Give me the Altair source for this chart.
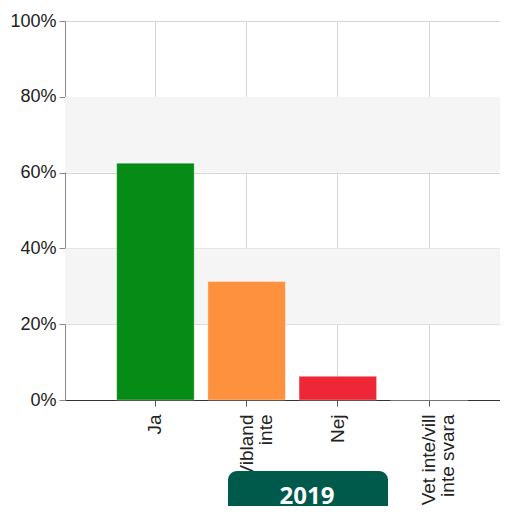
import altair as alt
import pandas as pd

categories = ["Ja", "Vibland\ninte", "Nej", "Vet inte/vill\ninte svara"]
shares = [62.5, 31.25, 6.25, 0.0]
bar_colors = ["#068B17", "#FD913D", "#EE2737", "#7F7F7F"]
y_ticks = [0, 20, 40, 60, 80, 100]
bands_from = [20, 60]
bands_to = [40, 80]
year_label = ["2019"]

df = pd.DataFrame({"cat": categories, "share": shares, "color": bar_colors})
bands = pd.DataFrame({"y0": bands_from, "y1": bands_to})
year_df = pd.DataFrame({"label": year_label})

W, H = 435, 379

x_enc = alt.X(
    "cat:N",
    sort=categories,
    scale=alt.Scale(paddingInner=0.15, paddingOuter=0.46, align=0.616, round=False),
    axis=alt.Axis(
        title=None,
        labelAngle=-90,
        labelExpr="split(datum.label, '\\n')",
        labelFont="Liberation Sans",
        labelFontSize=19,
        labelColor="#222222",
        labelLineHeight=19,
        labelPadding=8,
        labelLimit=0,
        tickSize=6,
        tickColor="#555555",
        domainColor="#333333",
        grid=True,
        gridColor="#d6d6d6",
        zindex=0,
    ),
)

y_scale = alt.Scale(domain=[0, 100], nice=False)

band_layer = alt.Chart(bands).mark_rect(color="#f5f5f5").encode(
    y=alt.Y("y0:Q", scale=y_scale),
    y2="y1:Q",
)

bars = alt.Chart(df).mark_bar(stroke="white", strokeOpacity=0.35, strokeWidth=1).encode(
    x=x_enc,
    y=alt.Y(
        "share:Q",
        scale=y_scale,
        axis=alt.Axis(
            title=None,
            values=y_ticks,
            labelExpr="datum.value + '%'",
            labelFont="Liberation Sans",
            labelFontSize=18,
            labelColor="#222222",
            labelPadding=3,
            tickSize=6,
            tickColor="#888888",
            domainColor="#888888",
            grid=True,
            gridColor="#d6d6d6",
        ),
    ),
    color=alt.Color("color:N", scale=None, legend=None),
)

box = alt.Chart(year_df).mark_rect(color="#005A4B", cornerRadius=9).encode(
    x=alt.value(163), x2=alt.value(323), y=alt.value(450), y2=alt.value(520)
)
box_text = alt.Chart(year_df).mark_text(
    color="white", font="Open Sans", fontWeight="bold", fontSize=24, baseline="alphabetic", align="center"
).encode(x=alt.value(242), y=alt.value(483), text="label:N")

chart = alt.layer(band_layer, bars, box, box_text).properties(
    width=W,
    height=H,
    autosize=alt.AutoSizeParams(type="none"),
    padding={"left": 57, "top": 13, "right": 0, "bottom": 106},
).configure_view(stroke=None).configure_axis(domainWidth=1)

chart.save("out.html", embed_options={"renderer": "svg", "actions": False})
